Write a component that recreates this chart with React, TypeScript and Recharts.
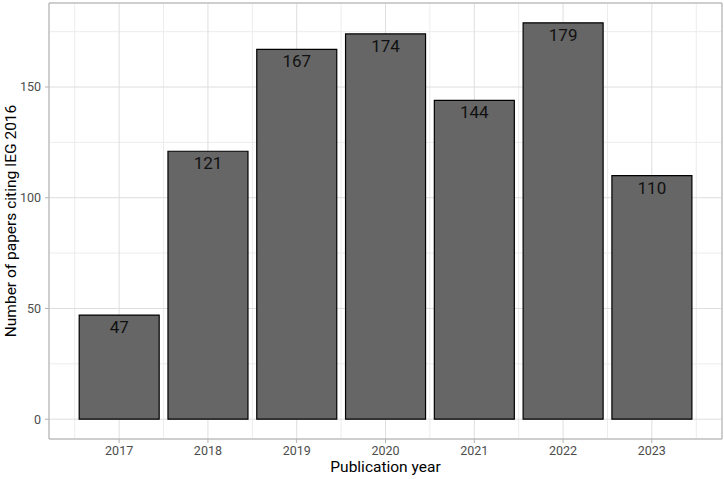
import React from 'react';
import {
  BarChart,
  Bar,
  XAxis,
  YAxis,
  CartesianGrid,
  LabelList,
  ReferenceArea,
} from 'recharts';

const years = ['2017', '2018', '2019', '2020', '2021', '2022', '2023'];
const papers = [47, 121, 167, 174, 144, 179, 110];
const yTicks = [0, 50, 100, 150];
const yMinorTicks = [25, 75, 125, 175];

// ggplot-style discrete positions 1..7 with minor breaks in between
const data = years.map((year, i) => ({ pos: i + 1, year, value: papers[i] }));
const xTicks = data.map((d) => d.pos);
const xMinorTicks = [0.5, ...data.map((d) => d.pos + 0.5)];

const X_DOMAIN: [number, number] = [0.21, 7.79];
const Y_DOMAIN: [number, number] = [-8.95, 187.95];

const FONT = 'Roboto, "Noto Sans", sans-serif';
const BORDER = '#b3b3b3';

const YTitle = (props: any) => {
  const { viewBox } = props;
  const x = viewBox.x + 11;
  const y = viewBox.y + viewBox.height / 2;
  return (
    <text
      x={x}
      y={y}
      transform={`rotate(-90, ${x}, ${y})`}
      textAnchor="middle"
      dominantBaseline="central"
      fontSize={15.5}
      fontFamily={FONT}
      fill="#000"
    >
      Number of papers citing IEG 2016
    </text>
  );
};

const App: React.FC = () => {
  return (
    <div style={{ position: 'absolute', left: 0, top: 0, width: 724, height: 479, background: '#fff' }}>
      <BarChart
        width={724}
        height={479}
        data={data}
        margin={{ top: 3, right: 2, left: 0, bottom: 0 }}
        barCategoryGap="5%"
      >
        <XAxis
          xAxisId="minor"
          type="number"
          dataKey="pos"
          domain={X_DOMAIN}
          ticks={xMinorTicks}
          allowDataOverflow
          hide
        />
        <YAxis yAxisId="minor" type="number" domain={Y_DOMAIN} ticks={yMinorTicks} allowDataOverflow hide />
        <CartesianGrid xAxisId="minor" yAxisId="minor" stroke="#ececec" strokeWidth={1} />
        <CartesianGrid stroke="#dedede" strokeWidth={1} />
        <XAxis
          type="number"
          dataKey="pos"
          domain={X_DOMAIN}
          ticks={xTicks}
          allowDataOverflow
          interval={0}
          tickFormatter={(v: number) => years[v - 1]}
          axisLine={false}
          tickLine={{ stroke: BORDER }}
          tickSize={4}
          tickMargin={3}
          height={40}
          tick={{ fill: '#4d4d4d', fontSize: 12.5, fontFamily: FONT }}
          label={{
            value: 'Publication year',
            position: 'insideBottom',
            offset: 7,
            fill: '#000',
            fontSize: 15.5,
            fontFamily: FONT,
          }}
        />
        <YAxis
          type="number"
          domain={Y_DOMAIN}
          ticks={yTicks}
          allowDataOverflow
          axisLine={false}
          tickLine={{ stroke: BORDER }}
          tickSize={4}
          tickMargin={4}
          width={49}
          tick={{ fill: '#4d4d4d', fontSize: 12.5, fontFamily: FONT }}
          label={<YTitle />}
        />
        <Bar dataKey="value" fill="#666666" stroke="#000" strokeWidth={1.2} isAnimationActive={false}>
          <LabelList
            dataKey="value"
            position="insideTop"
            offset={6}
            fill="#111"
            fontSize={17}
            fontFamily={FONT}
          />
        </Bar>
        <ReferenceArea
          x1={X_DOMAIN[0]}
          x2={X_DOMAIN[1]}
          y1={Y_DOMAIN[0]}
          y2={Y_DOMAIN[1]}
          fill="none"
          fillOpacity={0}
          stroke={BORDER}
          strokeWidth={1}
          ifOverflow="visible"
        />
      </BarChart>
    </div>
  );
};

export default App;
